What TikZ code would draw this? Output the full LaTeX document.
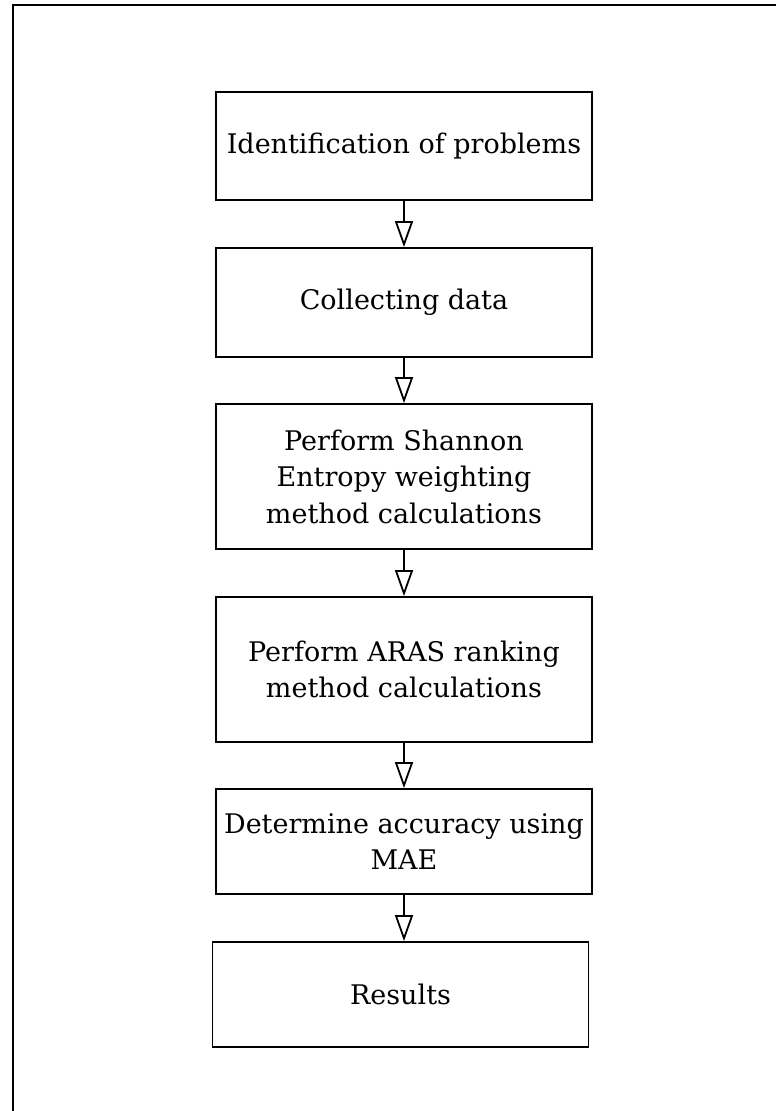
\documentclass[tikz,border=0pt]{standalone}
\usepackage{fontspec}
\setmainfont{DejaVu Serif}
\usetikzlibrary{arrows.meta}

\tikzset{
    stepbox/.style={draw, rectangle, line width=1.8pt, minimum width=376pt, inner sep=0pt,
        align=center, font=\fontsize{27}{36.5}\selectfont},
    flow/.style={line width=1.8pt, -{Triangle[open, length=26pt, width=18pt]}}
}

\begin{document}
\begin{tikzpicture}[x=1pt, y=-1pt]
    \useasboundingbox (0,0) rectangle (776,1111);
    % outer frame, cut off at the right and bottom
    \draw[line width=2.6pt] (13,1130) -- (13,5) -- (800,5);

    \node[stepbox, minimum height=108pt] (ident) at (404,146) {Identification of problems};
    \node[stepbox, minimum height=109pt] (collect) at (404,302.5) {Collecting data};
    \node[stepbox, minimum height=145pt] (shannon) at (404,476.5) {Perform Shannon\\Entropy weighting\\method calculations};
    \node[stepbox, minimum height=145pt] (aras) at (404,669.5) {Perform ARAS ranking\\method calculations};
    \node[stepbox, minimum height=105pt] (mae) at (404,841.5) {Determine accuracy using\\MAE};
    \node[stepbox, minimum height=105pt] (results) at (400.5,994.5) {Results};

    \draw[flow] (ident) -- (collect);
    \draw[flow] (collect) -- (shannon);
    \draw[flow] (shannon) -- (aras);
    \draw[flow] (aras) -- (mae);
    \draw[flow] (mae.south) -- (mae.south |- results.north);
\end{tikzpicture}
\end{document}
